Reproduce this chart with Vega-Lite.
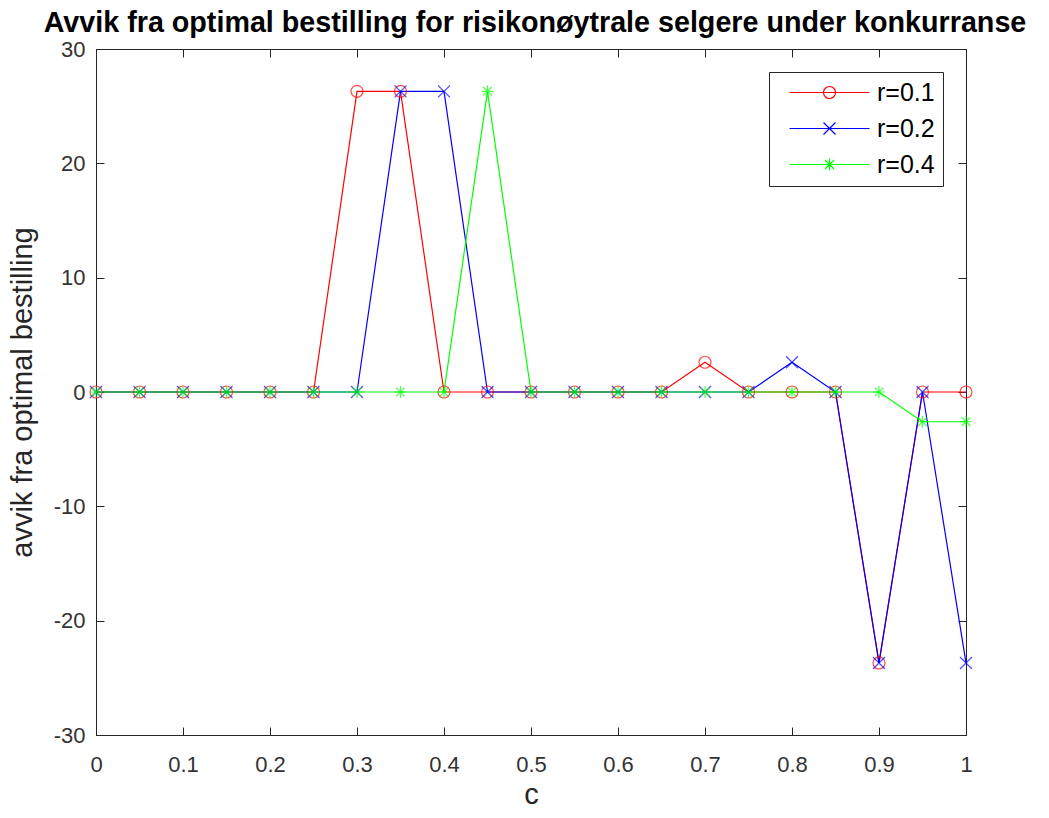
{
  "$schema": "https://vega.github.io/schema/vega-lite/v6.json",
  "autosize": "none",
  "width": 870,
  "height": 686,
  "padding": {"top": 49, "left": 96, "right": 83, "bottom": 83},
  "background": "white",
  "title": {
    "text": "Avvik fra optimal bestilling for risikonøytrale selgere under konkurranse",
    "font": "Liberation Sans",
    "fontSize": 28.7,
    "fontWeight": "bold",
    "color": "#000000",
    "anchor": "middle",
    "frame": "group",
    "dx": 4,
    "offset": 0
  },
  "data": {
    "values": [
      {"c": 0.00, "r": "r=0.1", "avvik": 0},
      {"c": 0.05, "r": "r=0.1", "avvik": 0},
      {"c": 0.10, "r": "r=0.1", "avvik": 0},
      {"c": 0.15, "r": "r=0.1", "avvik": 0},
      {"c": 0.20, "r": "r=0.1", "avvik": 0},
      {"c": 0.25, "r": "r=0.1", "avvik": 0},
      {"c": 0.30, "r": "r=0.1", "avvik": 26.3},
      {"c": 0.35, "r": "r=0.1", "avvik": 26.3},
      {"c": 0.40, "r": "r=0.1", "avvik": 0},
      {"c": 0.45, "r": "r=0.1", "avvik": 0},
      {"c": 0.50, "r": "r=0.1", "avvik": 0},
      {"c": 0.55, "r": "r=0.1", "avvik": 0},
      {"c": 0.60, "r": "r=0.1", "avvik": 0},
      {"c": 0.65, "r": "r=0.1", "avvik": 0},
      {"c": 0.70, "r": "r=0.1", "avvik": 2.6},
      {"c": 0.75, "r": "r=0.1", "avvik": 0},
      {"c": 0.80, "r": "r=0.1", "avvik": 0},
      {"c": 0.85, "r": "r=0.1", "avvik": 0},
      {"c": 0.90, "r": "r=0.1", "avvik": -23.7},
      {"c": 0.95, "r": "r=0.1", "avvik": 0},
      {"c": 1.00, "r": "r=0.1", "avvik": 0},
      {"c": 0.00, "r": "r=0.2", "avvik": 0},
      {"c": 0.05, "r": "r=0.2", "avvik": 0},
      {"c": 0.10, "r": "r=0.2", "avvik": 0},
      {"c": 0.15, "r": "r=0.2", "avvik": 0},
      {"c": 0.20, "r": "r=0.2", "avvik": 0},
      {"c": 0.25, "r": "r=0.2", "avvik": 0},
      {"c": 0.30, "r": "r=0.2", "avvik": 0},
      {"c": 0.35, "r": "r=0.2", "avvik": 26.3},
      {"c": 0.40, "r": "r=0.2", "avvik": 26.3},
      {"c": 0.45, "r": "r=0.2", "avvik": 0},
      {"c": 0.50, "r": "r=0.2", "avvik": 0},
      {"c": 0.55, "r": "r=0.2", "avvik": 0},
      {"c": 0.60, "r": "r=0.2", "avvik": 0},
      {"c": 0.65, "r": "r=0.2", "avvik": 0},
      {"c": 0.70, "r": "r=0.2", "avvik": 0},
      {"c": 0.75, "r": "r=0.2", "avvik": 0},
      {"c": 0.80, "r": "r=0.2", "avvik": 2.6},
      {"c": 0.85, "r": "r=0.2", "avvik": 0},
      {"c": 0.90, "r": "r=0.2", "avvik": -23.7},
      {"c": 0.95, "r": "r=0.2", "avvik": 0},
      {"c": 1.00, "r": "r=0.2", "avvik": -23.7},
      {"c": 0.00, "r": "r=0.4", "avvik": 0},
      {"c": 0.05, "r": "r=0.4", "avvik": 0},
      {"c": 0.10, "r": "r=0.4", "avvik": 0},
      {"c": 0.15, "r": "r=0.4", "avvik": 0},
      {"c": 0.20, "r": "r=0.4", "avvik": 0},
      {"c": 0.25, "r": "r=0.4", "avvik": 0},
      {"c": 0.30, "r": "r=0.4", "avvik": 0},
      {"c": 0.35, "r": "r=0.4", "avvik": 0},
      {"c": 0.40, "r": "r=0.4", "avvik": 0},
      {"c": 0.45, "r": "r=0.4", "avvik": 26.3},
      {"c": 0.50, "r": "r=0.4", "avvik": 0},
      {"c": 0.55, "r": "r=0.4", "avvik": 0},
      {"c": 0.60, "r": "r=0.4", "avvik": 0},
      {"c": 0.65, "r": "r=0.4", "avvik": 0},
      {"c": 0.70, "r": "r=0.4", "avvik": 0},
      {"c": 0.75, "r": "r=0.4", "avvik": 0},
      {"c": 0.80, "r": "r=0.4", "avvik": 0},
      {"c": 0.85, "r": "r=0.4", "avvik": 0},
      {"c": 0.90, "r": "r=0.4", "avvik": 0},
      {"c": 0.95, "r": "r=0.4", "avvik": -2.6},
      {"c": 1.00, "r": "r=0.4", "avvik": -2.6}
    ]
  },
  "layer": [
    {
      "mark": {"type": "line", "strokeWidth": 1.2, "clip": false},
      "encoding": {
        "x": {
          "field": "c", "type": "quantitative",
          "scale": {"domain": [0, 1], "nice": false, "zero": false},
          "axis": {
            "orient": "bottom", "title": "c", "values": [0, 0.1, 0.2, 0.3, 0.4, 0.5, 0.6, 0.7, 0.8, 0.9, 1],
            "format": "~g", "tickSize": -8, "labelPadding": 27, "titlePadding": 5, "labelFlush": false
          }
        },
        "y": {
          "field": "avvik", "type": "quantitative",
          "scale": {"domain": [-30, 30], "nice": false},
          "axis": {
            "orient": "left", "title": "avvik fra optimal bestilling", "values": [-30, -20, -10, 0, 10, 20, 30],
            "tickSize": -8, "labelPadding": 19, "titlePadding": 16, "labelFlush": false,
            "labelExpr": "replace(datum.label, '\u2212', '-')"
          }
        },
        "color": {
          "field": "r", "type": "nominal",
          "scale": {"domain": ["r=0.1", "r=0.2", "r=0.4"], "range": ["#ff0000", "#0000ff", "#00ff00"]},
          "legend": {
            "title": null,
            "orient": "top-right",
            "offset": 23,
            "symbolSize": 400,
            "symbolOffset": 40,
            "symbolStrokeWidth": 1.2,
            "labelOffset": 35,
            "encode": {
              "symbols": {
                "update": {
                  "fill": {"value": "transparent"},
                  "shape": {
                    "signal": "datum.value === 'r=0.1' ? 'M-4,0H4M0.6,0A0.6,0.6 0 1,1 -0.6,0A0.6,0.6 0 1,1 0.6,0' : datum.value === 'r=0.2' ? 'M-4,0H4M-0.6,-0.6L0.6,0.6M-0.6,0.6L0.6,-0.6' : 'M-4,0H4M0,-0.6V0.6M-0.45,-0.45L0.45,0.45M-0.45,0.45L0.45,-0.45'"
                  }
                }
              }
            }
          }
        }
      }
    },
    {
      "transform": [{"filter": "datum.r === 'r=0.1'"}],
      "mark": {"type": "point", "filled": false, "size": 144, "strokeWidth": 1.2, "clip": false,
               "shape": "M1,0A1,1 0 1,1 -1,0A1,1 0 1,1 1,0"},
      "encoding": {
        "x": {
          "field": "c", "type": "quantitative",
          "axis": {"orient": "top", "title": null, "labels": false, "values": [0, 0.1, 0.2, 0.3, 0.4, 0.5, 0.6, 0.7, 0.8, 0.9, 1], "tickSize": -8}
        },
        "y": {
          "field": "avvik", "type": "quantitative",
          "axis": {"orient": "right", "title": null, "labels": false, "values": [-30, -20, -10, 0, 10, 20, 30], "tickSize": -8}
        },
        "color": {"field": "r", "type": "nominal", "legend": null}
      }
    },
    {
      "transform": [{"filter": "datum.r === 'r=0.2'"}],
      "mark": {"type": "point", "filled": false, "size": 144, "strokeWidth": 1.2, "clip": false,
               "shape": "M-1,-1L1,1M-1,1L1,-1"},
      "encoding": {
        "x": {"field": "c", "type": "quantitative", "axis": null},
        "y": {"field": "avvik", "type": "quantitative", "axis": null},
        "color": {"field": "r", "type": "nominal", "legend": null}
      }
    },
    {
      "transform": [{"filter": "datum.r === 'r=0.4'"}],
      "mark": {"type": "point", "filled": false, "size": 144, "strokeWidth": 1.2, "clip": false,
               "shape": "M0,-1V1M-1,0H1M-0.72,-0.72L0.72,0.72M-0.72,0.72L0.72,-0.72"},
      "encoding": {
        "x": {"field": "c", "type": "quantitative", "axis": null},
        "y": {"field": "avvik", "type": "quantitative", "axis": null},
        "color": {"field": "r", "type": "nominal", "legend": null}
      }
    }
  ],
  "resolve": {"axis": {"x": "independent", "y": "independent"}},
  "config": {
    "view": {"stroke": "#262626", "strokeWidth": 1},
    "axis": {
      "grid": false,
      "domainColor": "#262626",
      "tickColor": "#262626",
      "labelFont": "Liberation Sans",
      "labelFontSize": 22,
      "labelColor": "#333333",
      "titleFont": "Liberation Sans",
      "titleFontSize": 29,
      "titleFontWeight": "normal",
      "titleColor": "#262626"
    },
    "legend": {
      "labelFont": "Liberation Sans",
      "labelFontSize": 25,
      "labelColor": "#000000",
      "strokeColor": "#262626",
      "fillColor": "white",
      "padding": 8,
      "rowPadding": 10
    }
  }
}
